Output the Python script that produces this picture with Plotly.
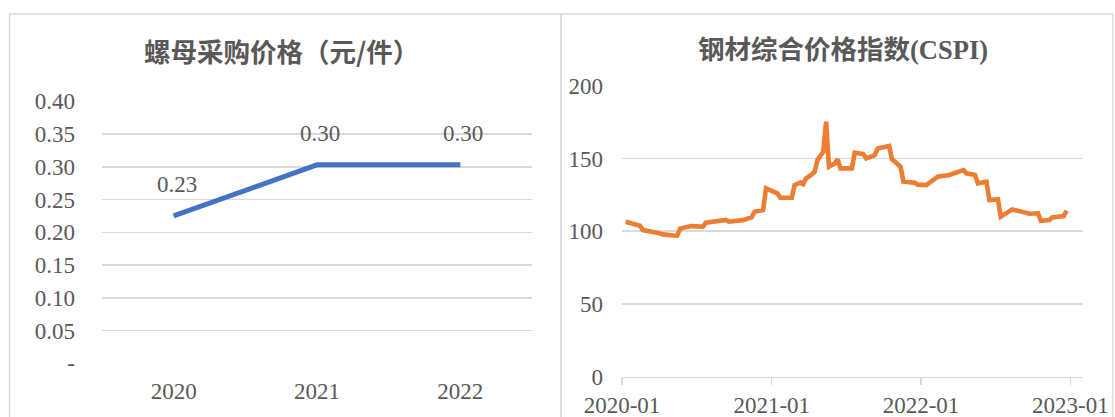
import plotly.graph_objects as go

# ---- Left chart data ----
nut_years = ["2020", "2021", "2022"]
nut_price = [0.225, 0.303, 0.303]
nut_labels = ["0.23", "0.30", "0.30"]
nut_yticks = [0, 0.05, 0.10, 0.15, 0.20, 0.25, 0.30, 0.35, 0.40]
nut_yticktext = ["-", "0.05", "0.10", "0.15", "0.20", "0.25", "0.30", "0.35", "0.40"]

# ---- Right chart data (CSPI) ----
cspi_dates = [
    "2020-01-10", "2020-01-17", "2020-02-07", "2020-02-14", "2020-02-21", "2020-03-13",
    "2020-03-27", "2020-04-10", "2020-04-17", "2020-05-08", "2020-05-15", "2020-05-22",
    "2020-06-05", "2020-06-19", "2020-07-03", "2020-07-17", "2020-07-24", "2020-08-07",
    "2020-08-21", "2020-09-04", "2020-09-11", "2020-09-18", "2020-10-09", "2020-10-23",
    "2020-11-06", "2020-11-13", "2020-11-20", "2020-12-04", "2020-12-11", "2020-12-18",
    "2021-01-08", "2021-01-15", "2021-01-22", "2021-02-19", "2021-02-26", "2021-03-12",
    "2021-03-19", "2021-03-26", "2021-04-09", "2021-04-16", "2021-04-23", "2021-05-07",
    "2021-05-14", "2021-05-21", "2021-06-04", "2021-06-11", "2021-06-18", "2021-07-16",
    "2021-07-23", "2021-08-13", "2021-08-20", "2021-09-10", "2021-09-17", "2021-10-15",
    "2021-10-22", "2021-11-12", "2021-11-19", "2021-12-17", "2021-12-24", "2022-01-14",
    "2022-02-11", "2022-03-11", "2022-03-25", "2022-04-15", "2022-04-22", "2022-05-13",
    "2022-05-20", "2022-06-10", "2022-06-17", "2022-07-08", "2022-07-15", "2022-08-12",
    "2022-09-16", "2022-09-23", "2022-10-14", "2022-10-21", "2022-11-11", "2022-11-18",
    "2022-12-16", "2022-12-23",
]
cspi_values = [
    106.5, 105.9, 104.6, 103.8, 100.8, 100.1,
    99.0, 97.8, 97.4, 97.0, 96.9, 101.7,
    102.8, 103.5, 103.3, 103.1, 105.8, 106.2,
    106.6, 107.4, 107.7, 106.5, 107.0, 107.6,
    109.0, 109.5, 113.4, 114.0, 114.5, 129.4,
    127.0, 126.0, 123.0, 123.0, 131.7, 133.5,
    132.4, 136.3, 139.0, 140.9, 148.9, 154.6,
    175.3, 144.3, 146.5, 149.4, 143.2, 143.2,
    154.0, 153.0, 150.0, 152.3, 156.9, 158.5,
    149.4, 144.3, 134.0, 133.3, 132.0, 131.7,
    137.5, 138.6, 140.0, 142.0, 139.8, 138.6,
    132.9, 134.0, 121.4, 121.9, 110.0, 115.0,
    112.6, 112.0, 112.3, 107.2, 107.7, 109.5,
    110.4, 114.1,
]
cspi_yticks = [0, 50, 100, 150, 200]

W, H = 1115, 417
TXT = "#595959"
GRID = "#D9D9D9"
FONT = "Liberation Serif, Noto Sans CJK SC, serif"


def px(x):
    return x / W


def py(y):
    return 1 - y / H


fig = go.Figure()

fig.add_trace(go.Scatter(
    x=nut_years, y=nut_price, mode="lines",
    line=dict(color="#4472C4", width=5), xaxis="x", yaxis="y",
    hoverinfo="skip", showlegend=False,
))
fig.add_trace(go.Scatter(
    x=cspi_dates, y=cspi_values, mode="lines",
    line=dict(color="#ED7D31", width=4.6, shape="linear"), xaxis="x2", yaxis="y2",
    hoverinfo="skip", showlegend=False,
))

annotations = []
for i, (val, lab) in enumerate(zip(nut_price, nut_labels)):
    annotations.append(dict(
        x=i, y=val, xref="x", yref="y", text=lab, showarrow=False,
        yshift=31, xshift=3, font=dict(family=FONT, size=23, color=TXT),
    ))
annotations.append(dict(
    x=px(281), y=py(50), xref="paper", yref="paper", text="螺母采购价格（元/件）",
    showarrow=False, xanchor="center", yanchor="middle",
    font=dict(family="Noto Sans CJK SC, sans-serif", size=26.5, color=TXT, weight="bold"),
))
annotations.append(dict(
    x=px(843), y=py(50), xref="paper", yref="paper", text="钢材综合价格指数(CSPI)",
    showarrow=False, xanchor="center", yanchor="middle",
    font=dict(family=FONT, size=26.5, color=TXT, weight="bold"),
))

shapes = [
    dict(type="rect", xref="paper", yref="paper", x0=px(9.5), x1=px(561), y0=-0.2, y1=py(14),
         line=dict(color=GRID, width=1.3), fillcolor="rgba(0,0,0,0)", layer="below"),
    dict(type="rect", xref="paper", yref="paper", x0=px(561), x1=px(1113), y0=-0.2, y1=py(14),
         line=dict(color=GRID, width=1.3), fillcolor="rgba(0,0,0,0)", layer="below"),
]

axis_font = dict(family=FONT, size=23, color=TXT)

fig.update_layout(
    width=W, height=H,
    margin=dict(l=0, r=0, t=0, b=0, autoexpand=False),
    paper_bgcolor="white", plot_bgcolor="white",
    font=dict(family=FONT, size=23, color=TXT),
    annotations=annotations,
    shapes=shapes,
    hovermode=False,
    xaxis=dict(
        domain=[px(102), px(532)], anchor="y", type="category", automargin=False,
        range=[-0.5, 2.5], showgrid=False, showline=False, zeroline=False,
        ticks="", tickfont=axis_font, ticklabelstandoff=12,
    ),
    yaxis=dict(
        domain=[py(363.3), py(101.3)], anchor="x", range=[0, 0.4], automargin=False,
        tickvals=nut_yticks, ticktext=nut_yticktext,
        showgrid=True, gridcolor=GRID, gridwidth=1.5, zeroline=False,
        showline=False, ticks="", ticklabelstandoff=26,
        tickfont=axis_font,
    ),
    xaxis2=dict(
        domain=[px(622), px(1083)], anchor="y2", type="date", automargin=False,
        range=["2020-01-01", "2023-02-01"], tick0="2020-01-01", dtick="M12",
        tickformat="%Y-%m", showgrid=False, zeroline=False,
        showline=True, linecolor=GRID, linewidth=1.5,
        ticks="outside", ticklen=7, tickcolor=GRID, tickwidth=1.5,
        tickfont=axis_font,
    ),
    yaxis2=dict(
        domain=[py(376.7), py(85.7)], anchor="x2", range=[0, 200], automargin=False,
        tickvals=cspi_yticks, showgrid=True, gridcolor=GRID, gridwidth=1.5,
        zeroline=False, showline=False, ticks="", ticklabelstandoff=18,
        tickfont=axis_font,
    ),
)

fig.write_html(
    "out.html",
    config={"displayModeBar": False, "staticPlot": True},
    post_script="document.body.style.margin='0';document.body.style.overflow='hidden';",
)
